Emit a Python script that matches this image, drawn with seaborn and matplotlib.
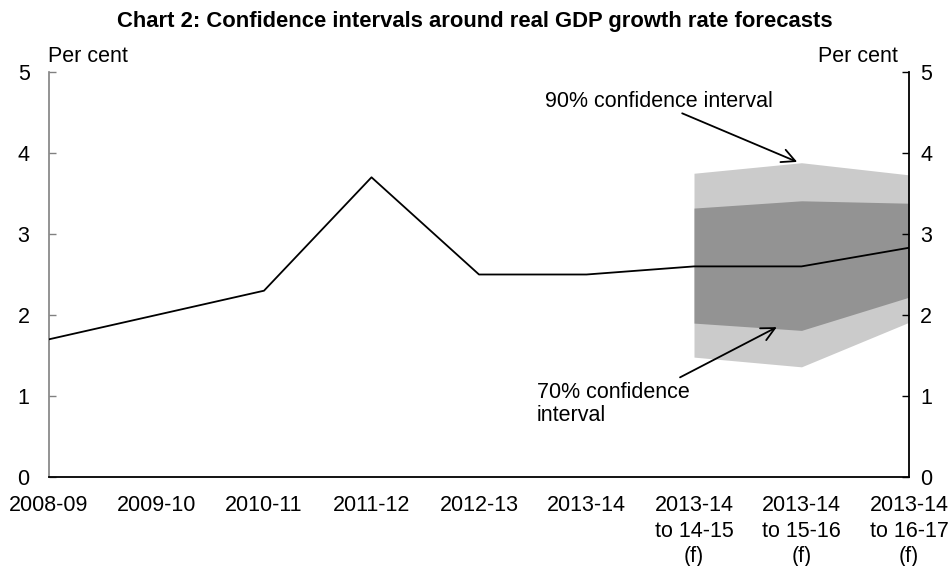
import matplotlib
matplotlib.use("Agg")
import matplotlib.pyplot as plt
import seaborn as sns
import numpy as np
import pandas as pd

categories = ["2008-09", "2009-10", "2010-11", "2011-12", "2012-13", "2013-14",
              "2013-14\nto 14-15\n(f)", "2013-14\nto 15-16\n(f)", "2013-14\nto 16-17\n(f)"]
growth = [1.7, 2.0, 2.3, 3.7, 2.5, 2.5, 2.6, 2.6, 2.83]
band_idx = [6, 7, 8]
ci90_low = [1.48, 1.36, 1.91]
ci90_high = [3.75, 3.88, 3.73]
ci70_low = [1.90, 1.81, 2.22]
ci70_high = [3.32, 3.41, 3.38]
yticks = [0, 1, 2, 3, 4, 5]

sns.set_style("white")
plt.rcParams['font.family'] = ['Liberation Sans', 'DejaVu Sans']
plt.rcParams['text.color'] = 'black'
plt.rcParams['xtick.color'] = 'black'
plt.rcParams['ytick.color'] = 'black'
plt.rcParams['xtick.labelcolor'] = 'black'
plt.rcParams['ytick.labelcolor'] = 'black'
FS = 15.5

fig = plt.figure(figsize=(9.5, 5.66), dpi=100)
ax = fig.add_axes([49/950, 1-477/566, (909-49)/950, (477-72)/566])

df = pd.DataFrame({"pos": np.arange(len(categories)), "growth": growth})

ax.fill_between(band_idx, ci90_low, ci90_high, color="#cbcbcb", lw=0, zorder=1)
ax.fill_between(band_idx, ci70_low, ci70_high, color="#939393", lw=0, zorder=2)
sns.lineplot(data=df, x="pos", y="growth", ax=ax, color="black", lw=1.3, zorder=3)

ax.set_xlim(0, len(categories) - 1)
ax.set_ylim(0, 5)
ax.set_xticks(range(len(categories)))
ax.set_xticklabels(categories, fontsize=FS, linespacing=1.29)
ax.set_yticks(yticks)
ax.set_yticklabels([str(v) for v in yticks], fontsize=FS)
ax.set_xlabel("")
ax.set_ylabel("")

ax.spines["top"].set_visible(False)
ax.spines["left"].set_color("#808080")
ax.spines["left"].set_linewidth(1.2)
ax.spines["bottom"].set_color("black")
ax.spines["bottom"].set_linewidth(1.3)
ax.spines["right"].set_visible(False)

ax.tick_params(axis="x", direction="in", length=5, width=1, color="black", pad=13,
               labelcolor="black")
ax.tick_params(axis="y", direction="in", length=5, width=1, color="#808080", pad=14,
               left=True, labelcolor="black")

ax2 = ax.twinx()
ax2.set_ylim(0, 5)
ax2.set_yticks(yticks)
ax2.set_yticklabels([str(v) for v in yticks], fontsize=FS)
for s in ["top", "left", "bottom"]:
    ax2.spines[s].set_visible(False)
ax2.spines["right"].set_color("black")
ax2.spines["right"].set_linewidth(1.3)
ax2.tick_params(axis="y", direction="in", length=5, width=1, color="black", pad=8,
                labelcolor="black")
ax2.grid(False)
ax.grid(False)

fig.text(48/950, 1-57/566, "Per cent", fontsize=FS, ha="left", va="center", color="black")
fig.text(898/950, 1-57/566, "Per cent", fontsize=FS, ha="right", va="center", color="black")
fig.text(475/950, 1-21/566, "Chart 2: Confidence intervals around real GDP growth rate forecasts",
         fontsize=15.8, fontweight="bold", ha="center", va="center", color="black")

arrow = dict(arrowstyle="->", color="black", lw=1.3, shrinkA=0, shrinkB=0,
             mutation_scale=24)
ax.text(5.67, 4.64, "90% confidence interval", fontsize=FS, ha="center", va="center",
        color="black")
ax.annotate("", xy=(6.96, 3.89), xytext=(5.89, 4.49), arrowprops=arrow)
ax.text(4.54, 0.90, "70% confidence\ninterval", fontsize=FS, ha="left", va="center",
        linespacing=1.15, color="black")
ax.annotate("", xy=(6.77, 1.85), xytext=(5.87, 1.23), arrowprops=arrow)

fig.savefig("out.png", dpi=100)
